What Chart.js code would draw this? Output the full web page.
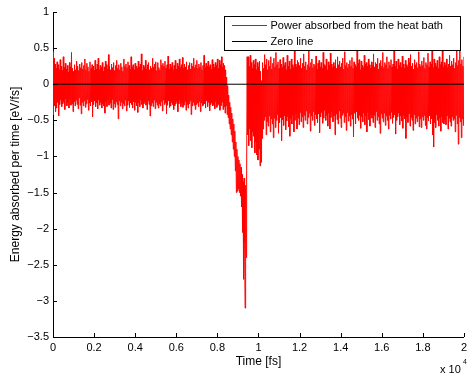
<!DOCTYPE html>
<html>
<head>
<meta charset="utf-8">
<script src="https://cdn.jsdelivr.net/npm/chart.js@4.4.1/dist/chart.umd.min.js"></script>
<style>
  html, body { margin: 0; padding: 0; background: #ffffff; }
  #c { display: block; }
</style>
</head>
<body>
<canvas id="c" width="471" height="376"></canvas>
<script>
// ---- Data ----
const timeStepFs = 25; // sampling interval of the series (fs)

// Baseline fluctuations, 0 .. 8375 fs
const powerBefore = [
  0.45,-0.42,0.36,-0.3,0.28,-0.38,0.22,-0.33,0.31,-0.25,0.27,-0.44,
  0.2,-0.28,0.34,-0.22,0.25,-0.31,0.19,-0.27,0.38,-0.24,0.23,-0.35,
  0.29,-0.2,0.21,-0.3,0.26,-0.26,0.17,-0.33,0.3,-0.21,0.24,-0.29,
  0.44,-0.27,0.22,-0.38,0.18,-0.24,0.27,-0.3,0.2,-0.22,0.32,-0.28,
  0.25,-0.34,0.19,-0.19,0.28,-0.29,0.23,-0.41,0.3,-0.25,0.21,-0.3,
  0.26,-0.23,0.35,-0.32,0.2,-0.27,0.29,-0.21,0.24,-0.36,0.18,-0.26,
  0.31,-0.3,0.22,-0.24,0.27,-0.45,0.25,-0.28,0.19,-0.23,0.33,-0.31,
  0.21,-0.26,0.28,-0.34,0.36,-0.22,0.2,-0.29,0.26,-0.25,0.23,-0.33,
  0.3,-0.27,0.18,-0.3,0.24,-0.4,0.32,-0.24,0.27,-0.31,0.21,-0.22,
  0.41,-0.29,0.25,-0.26,0.2,-0.33,0.28,-0.21,0.23,-0.35,0.3,-0.27,
  0.19,-0.32,0.26,-0.24,0.33,-0.28,0.22,-0.48,0.27,-0.23,0.2,-0.3,
  0.29,-0.25,0.24,-0.34,0.18,-0.27,0.35,-0.3,0.25,-0.22,0.28,-0.37,
  0.23,-0.29,0.31,-0.23,0.26,-0.32,0.21,-0.26,0.38,-0.28,0.24,-0.33,
  0.27,-0.24,0.2,-0.36,0.29,-0.25,0.25,-0.3,0.22,-0.39,0.32,-0.26,
  0.24,-0.31,0.28,-0.22,0.42,-0.28,0.19,-0.33,0.26,-0.27,0.23,-0.24,
  0.33,-0.29,0.21,-0.35,0.27,-0.23,0.3,-0.28,0.2,-0.44,0.25,-0.3,
  0.22,-0.26,0.36,-0.31,0.24,-0.22,0.28,-0.34,0.31,-0.25,0.19,-0.29,
  0.3,-0.33,0.23,-0.27,0.2,-0.3,0.34,-0.24,0.26,-0.37,0.29,-0.22,
  0.25,-0.28,0.32,-0.26,0.22,-0.41,0.27,-0.29,0.39,-0.23,0.21,-0.32,
  0.28,-0.3,0.24,-0.25,0.3,-0.28,0.2,-0.35,0.26,-0.3,0.33,-0.27,
  0.21,-0.24,0.29,-0.38,0.25,-0.27,0.35,-0.22,0.23,-0.31,0.27,-0.26,
  0.37,-0.32,0.22,-0.29,0.28,-0.24,0.24,-0.36,0.31,-0.28,0.2,-0.33,
  0.26,-0.27,0.3,-0.23,0.21,-0.42,0.29,-0.3,0.25,-0.25,0.36,-0.29,
  0.23,-0.35,0.27,-0.28,0.33,-0.26,0.22,-0.31,0.28,-0.24,0.24,-0.38,
  0.3,-0.26,0.2,-0.3,0.26,-0.29,0.4,-0.27,0.23,-0.33,0.29,-0.23,
  0.25,-0.31,0.32,-0.25,0.24,-0.37,0.27,-0.28,0.21,-0.26,0.34,-0.3,
  0.28,-0.28,0.23,-0.34,0.3,-0.24,0.26,-0.32,0.35,-0.29,0.22,-0.27,
  0.33,-0.36,0.27,-0.3,0.38,-0.25,0.24,-0.35,0.29,-0.31,0.26,-0.4
];
// Dip and sharp spike, 8400 .. 9450 fs
const powerDip = [
  0.2,-0.3,0.1,-0.42,-0.02,-0.46,-0.15,-0.55,-0.25,-0.62,-0.32,-0.7,
  -0.4,-0.8,-0.48,-0.9,-0.55,-1.0,-0.65,-1.2,-0.8,-1.5,-0.9,-1.48,
  -1.0,-1.45,-1.05,-1.5,-1.1,-1.55,-1.15,-1.7,-1.25,-2.05,-1.35,-2.7,
  -1.3,-2.2,-3.1,-1.4,-2.4,-1.2,0.38
];
// Recovery, 9475 .. 10175 fs
const powerRecovery = [
  -0.7,0.38,-0.85,0.25,-0.62,0.4,-0.78,0.3,-0.88,0.22,-0.66,0.33,
  -0.72,0.27,-0.95,0.35,-0.8,0.2,-0.98,0.3,-1.05,0.24,-0.9,0.32,
  -1.13,0.18,-1.08,0.05,-0.75
];
// Later fluctuations, 10200 .. 20000 fs
const powerAfter = [
  0.3,-0.62,0.22,-0.5,0.41,-0.45,0.27,-0.7,0.35,-0.52,0.2,-0.58,
  0.33,-0.44,0.25,-0.66,0.38,-0.48,0.21,-0.55,0.29,-0.74,0.36,-0.47,
  0.24,-0.6,0.44,-0.5,0.27,-0.42,0.31,-0.68,0.22,-0.53,0.34,-0.46,
  0.28,-0.78,0.23,-0.49,0.37,-0.57,0.26,-0.44,0.3,-0.63,0.2,-0.51,
  0.4,-0.45,0.25,-0.59,0.32,-0.72,0.21,-0.48,0.35,-0.55,0.27,-0.43,
  0.23,-0.66,0.46,-0.5,0.28,-0.41,0.24,-0.62,0.33,-0.47,0.3,-0.56,
  0.26,-0.39,0.36,-0.52,0.22,-0.45,0.29,-0.6,0.42,-0.43,0.25,-0.5,
  0.31,-0.37,0.2,-0.55,0.27,-0.46,0.48,-0.4,0.24,-0.65,0.3,-0.44,
  0.35,-0.5,0.23,-0.38,0.28,-0.57,0.26,-0.42,0.39,-0.48,0.21,-0.53,
  0.29,-0.41,0.33,-0.67,0.24,-0.45,0.3,-0.39,0.22,-0.54,0.44,-0.47,
  0.27,-0.36,0.25,-0.5,0.35,-0.43,0.2,-0.58,0.31,-0.4,0.26,-0.62,
  0.43,-0.46,0.28,-0.38,0.23,-0.52,0.3,-0.44,0.25,-0.7,0.34,-0.41,
  0.22,-0.49,0.38,-0.55,0.27,-0.37,0.32,-0.47,0.24,-0.6,0.29,-0.43,
  0.36,-0.4,0.21,-0.53,0.45,-0.45,0.26,-0.64,0.3,-0.39,0.23,-0.51,
  0.28,-0.44,0.33,-0.58,0.25,-0.42,0.37,-0.48,0.22,-0.73,0.31,-0.4,
  0.27,-0.55,0.24,-0.38,0.49,-0.47,0.29,-0.5,0.34,-0.43,0.2,-0.61,
  0.32,-0.45,0.26,-0.52,0.23,-0.4,0.4,-0.56,0.28,-0.44,0.3,-0.66,
  0.25,-0.39,0.35,-0.49,0.27,-0.58,0.22,-0.42,0.31,-0.47,0.26,-0.53,
  0.42,-0.43,0.24,-0.6,0.3,-0.38,0.28,-0.5,0.36,-0.45,0.21,-0.55,
  0.29,-0.68,0.33,-0.41,0.25,-0.47,0.44,-0.52,0.23,-0.4,0.3,-0.57,
  0.27,-0.44,0.38,-0.5,0.22,-0.62,0.31,-0.43,0.26,-0.48,0.34,-0.39,
  0.24,-0.54,0.28,-0.46,0.47,-0.42,0.25,-0.69,0.32,-0.5,0.21,-0.45,
  0.35,-0.4,0.26,-0.56,0.3,-0.44,0.23,-0.51,0.39,-0.61,0.28,-0.43,
  0.22,-0.48,0.33,-0.75,0.27,-0.45,0.24,-0.53,0.36,-0.41,0.3,-0.58,
  0.41,-0.46,0.25,-0.5,0.29,-0.64,0.21,-0.42,0.34,-0.55,0.27,-0.47,
  0.3,-0.52,0.23,-0.44,0.45,-0.59,0.28,-0.48,0.25,-0.6,0.32,-0.45,
  0.26,-0.5,0.37,-0.43,0.22,-0.57,0.3,-0.62,0.27,-0.46,0.43,-0.51,
  0.24,-0.44,0.31,-0.55,0.28,-0.48,0.5,-0.7,0.23,-0.87,0.35,-0.53,
  0.29,-0.6,0.25,-0.42,0.33,-0.5,0.22,-0.58,0.38,-0.47,0.27,-0.65,
  0.31,-0.45,0.46,-0.53,0.24,-0.55,0.3,-0.49,0.26,-0.56,0.35,-0.44,
  0.23,-0.62,0.28,-0.47,0.4,-0.52,0.25,-0.58,0.32,-0.45,0.27,-0.5,
  0.36,-0.48,0.22,-0.66,0.3,-0.43,0.48,-0.55,0.26,-0.83,0.33,-0.46,
  0.5,-0.52,0.28,-0.74,0.34,-0.48,0.25,-0.57,0.38
];
const zeroLineTimes = [0, 20000];
const zeroLineValues = [0, 0];

const xTickValues = [0, 2000, 4000, 6000, 8000, 10000, 12000, 14000, 16000, 18000, 20000];
const xTickLabels = ['0', '0.2', '0.4', '0.6', '0.8', '1', '1.2', '1.4', '1.6', '1.8', '2'];
const yTickValues = [1, 0.5, 0, -0.5, -1, -1.5, -2, -2.5, -3, -3.5];
const yTickLabels = ['1', '0.5', '0', '\u22120.5', '\u22121', '\u22121.5', '\u22122', '\u22122.5', '\u22123', '\u22123.5'];

const seriesLabels = ['Power absorbed from the heat bath', 'Zero line'];
const seriesColors = ['#ff0000', '#000000'];
const xTitle = 'Time [fs]';
const yTitle = 'Energy absorbed per time [eV/fs]';
const xExponentBase = 'x 10';
const xExponent = '4';

// ---- Build chart data ----
const power = powerBefore.concat(powerDip, powerRecovery, powerAfter);
const powerPoints = power.map((v, i) => ({ x: i * timeStepFs, y: v }));
const zeroPoints = zeroLineTimes.map((t, i) => ({ x: t, y: zeroLineValues[i] }));

const FONT = '"Liberation Sans", Arial, Helvetica, sans-serif';

function labelFor(values, labels, v) {
  for (let i = 0; i < values.length; i++) {
    if (Math.abs(values[i] - v) < 1e-9) return labels[i];
  }
  return '';
}

const decorPlugin = {
  id: 'decor',
  afterDraw(chart) {
    const { ctx, chartArea: a, scales: { x, y } } = chart;
    ctx.save();
    // inward tick marks
    ctx.strokeStyle = '#000';
    ctx.lineWidth = 1;
    ctx.beginPath();
    x.ticks.forEach(t => {
      const px = Math.round(x.getPixelForValue(t.value)) + 0.5;
      ctx.moveTo(px, a.bottom);
      ctx.lineTo(px, a.bottom - 4);
    });
    y.ticks.forEach(t => {
      const py = Math.round(y.getPixelForValue(t.value)) + 0.5;
      ctx.moveTo(a.left, py);
      ctx.lineTo(a.left + 4, py);
    });
    ctx.stroke();

    // x 10^4 multiplier
    ctx.fillStyle = '#000';
    ctx.textAlign = 'left';
    ctx.textBaseline = 'alphabetic';
    ctx.font = '11px ' + FONT;
    ctx.fillText(xExponentBase, 440, 372.5);
    ctx.font = '7px ' + FONT;
    ctx.fillText(xExponent, 463, 364);

    // legend box
    const lx = 224.5, ly = 16.5, lw = 236, lh = 34;
    ctx.fillStyle = '#fff';
    ctx.fillRect(lx, ly, lw, lh);
    ctx.strokeStyle = '#000';
    ctx.strokeRect(lx, ly, lw, lh);
    const rows = [25.5, 41.5];
    seriesLabels.forEach((label, i) => {
      ctx.strokeStyle = seriesColors[i];
      ctx.lineWidth = 1;
      ctx.beginPath();
      ctx.moveTo(232, rows[i]);
      ctx.lineTo(267, rows[i]);
      ctx.stroke();
      ctx.fillStyle = '#000';
      ctx.font = '11px ' + FONT;
      ctx.textBaseline = 'middle';
      ctx.fillText(label, 270.5, rows[i] + 0.5);
    });
    ctx.restore();
  }
};

new Chart(document.getElementById('c'), {
  type: 'line',
  data: {
    datasets: [
      {
        label: seriesLabels[0],
        data: powerPoints,
        borderColor: seriesColors[0],
        borderWidth: 1,
        pointRadius: 0,
        fill: false,
        tension: 0,
        order: 1
      },
      {
        label: seriesLabels[1],
        data: zeroPoints,
        borderColor: seriesColors[1],
        borderWidth: 1,
        pointRadius: 0,
        fill: false,
        order: 0
      }
    ]
  },
  options: {
    responsive: false,
    animation: false,
    events: [],
    layout: { padding: { top: 12, right: 5, left: 0, bottom: 0 } },
    plugins: {
      legend: { display: false },
      tooltip: { enabled: false },
      title: { display: false }
    },
    scales: {
      x: {
        type: 'linear',
        min: 0,
        max: 20000,
        afterBuildTicks(scale) {
          scale.ticks = xTickValues.map(v => ({ value: v }));
        },
        afterFit(scale) { scale.height = 39; },
        ticks: {
          autoSkip: false,
          maxRotation: 0,
          padding: 4,
          color: '#000',
          font: { family: FONT, size: 11 },
          callback: (v) => labelFor(xTickValues, xTickLabels, v)
        },
        grid: { display: false, drawTicks: false },
        border: { display: true, color: '#000', width: 1 },
        title: {
          display: true,
          text: xTitle,
          color: '#000',
          font: { family: FONT, size: 12 },
          padding: { top: 0, bottom: 7 }
        }
      },
      y: {
        type: 'linear',
        min: -3.5,
        max: 1,
        afterBuildTicks(scale) {
          scale.ticks = yTickValues.slice().reverse().map(v => ({ value: v }));
        },
        afterFit(scale) { scale.width = 53; },
        ticks: {
          autoSkip: false,
          padding: 4,
          color: '#000',
          font: { family: FONT, size: 11 },
          callback: (v) => labelFor(yTickValues, yTickLabels, v)
        },
        grid: { display: false, drawTicks: false },
        border: { display: true, color: '#000', width: 1 },
        title: {
          display: true,
          text: yTitle,
          color: '#000',
          font: { family: FONT, size: 12 },
          padding: { top: 8, bottom: 0 }
        }
      }
    }
  },
  plugins: [decorPlugin]
});
</script>
</body>
</html>
